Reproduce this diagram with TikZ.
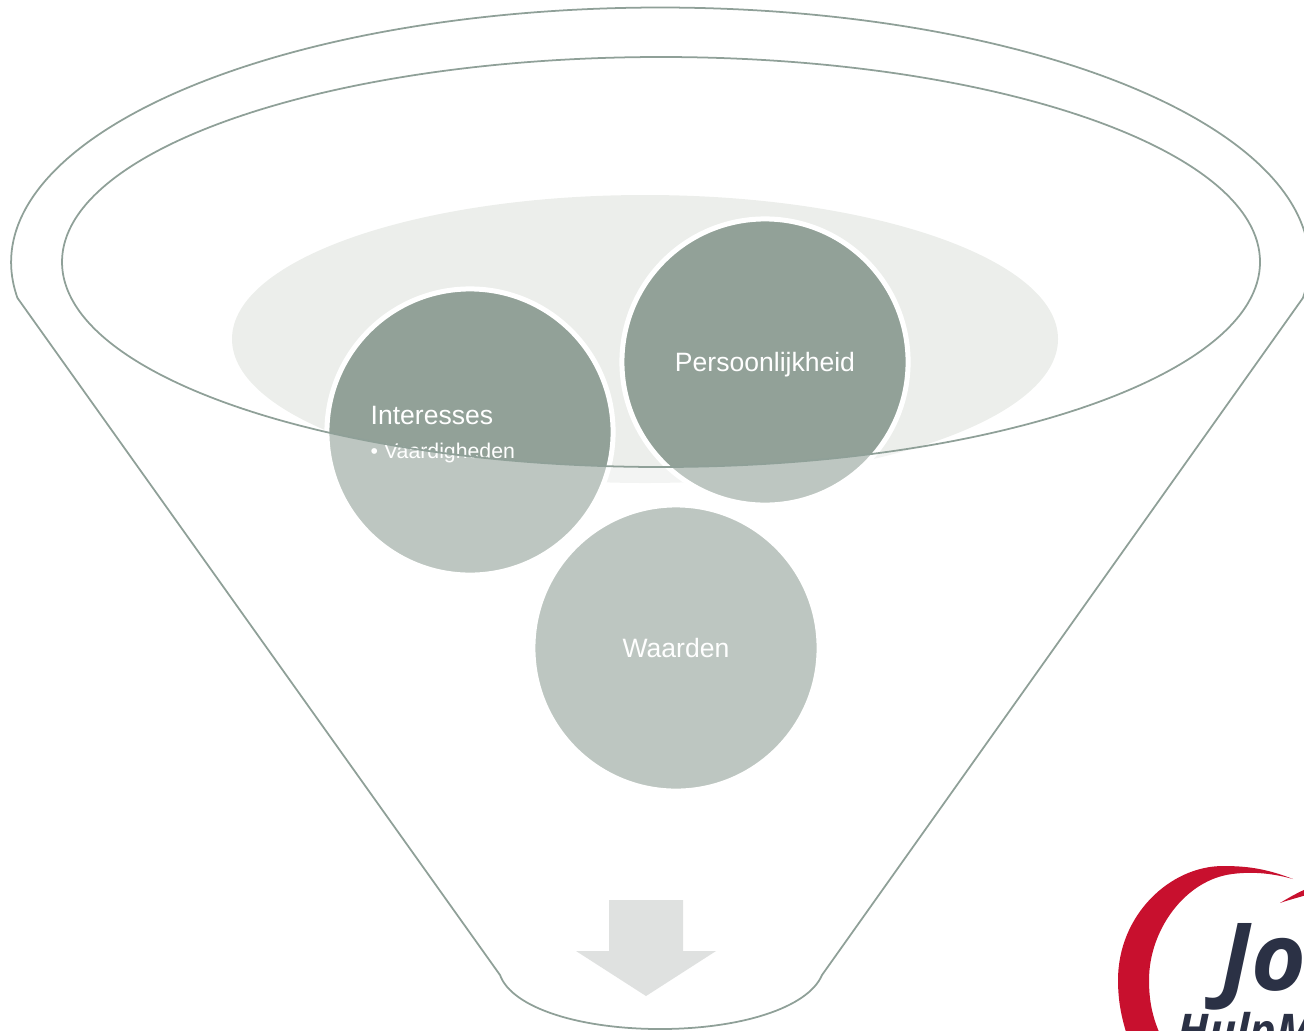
\documentclass[tikz,border=0pt]{standalone}
\usepackage{fontspec}
\setmainfont{Liberation Sans}
\newfontfamily\logofont{Open Sans}
\definecolor{funnelline}{HTML}{8FA098}
\definecolor{bubblefill}{HTML}{92A198}
\definecolor{backfill}{HTML}{ECEEEB}
\definecolor{arrowfill}{HTML}{DFE1E0}
\definecolor{logored}{HTML}{C8102E}
\definecolor{logonavy}{HTML}{2B3145}
\tikzset{
    bubble/.style={circle, fill=bubblefill, draw=white, line width=0.05cm, minimum size=2.86cm, inner sep=0pt, text=white, text depth=0pt, font=\fontsize{7.55}{9}\selectfont},
    bubbletext/.style={text=white, inner sep=0pt, anchor=west},
    funnel/.style={draw=funnelline, line width=0.5pt}
}
\begin{document}
\begin{tikzpicture}[x=0.01cm, y=-0.01cm]
    \useasboundingbox (0,0) rectangle (1304,1030);

    % Back ellipse and bubbles
    \fill[backfill] (645,339) ellipse [x radius=413, y radius=144];
    \node[bubble] (waarden) at (676,648) {Waarden};
    \node[bubble] (interesses) at (470,432) {};
    \node[bubble] (persoonlijkheid) at (765,362) {Persoonlijkheid};
    \node[bubbletext, font=\fontsize{7.55}{9}\selectfont] (interessestext) at (370,415) {Interesses};
    \node[bubbletext, font=\fontsize{6.05}{7}\selectfont] (vaardigheden) at (370,452.5) {• Vaardigheden};

    % Pale veil outside the funnel opening
    \fill[white, opacity=0.4, even odd rule] (0,0) rectangle (1304,1030) (661,262) ellipse [x radius=599, y radius=205];

    % Funnel
    \draw[funnel] (661,262) ellipse [x radius=599, y radius=205];
    \draw[funnel] (17.5,298) arc [start angle=172, end angle=368, x radius=649, y radius=255]
        -- (822,975) .. controls (808,1008) and (740,1029) .. (660,1029)
        .. controls (580,1029) and (512,1008) .. (500,975) -- cycle;

    % Arrow
    \fill[arrowfill] (609,900) -- (683,900) -- (683,951) -- (716,951) -- (646,996) -- (576,951) -- (609,951) -- cycle;

    % Logo
    \begin{scope}
        \clip (0,0) rectangle (1304,1030);
        \fill[logored] (1293,879) .. controls (1265,868) and (1245,866) .. (1223,866)
            .. controls (1170,866) and (1118,915) .. (1118,980) .. controls (1118,1000) and (1121,1015) .. (1126,1032)
            -- (1159,1032) .. controls (1152,1015) and (1149,1000) .. (1149,980)
            .. controls (1149,930) and (1185,880) .. (1232,874) .. controls (1255,871) and (1275,874) .. (1293,879) -- cycle;
        \fill[logored] (1280,903) .. controls (1288,898) and (1297,893) .. (1306,889) -- (1306,895) .. controls (1297,898) and (1288,900) .. (1280,903) -- cycle;
        \node[inner sep=0pt, anchor=base west, text=logonavy, font=\logofont\bfseries\itshape\fontsize{26.7}{27}\selectfont] (logojo) at (1220,990) {Jo};
        \node[inner sep=0pt, anchor=base west, text=logonavy, font=\logofont\bfseries\itshape\fontsize{12.8}{13}\selectfont] (logohulp) at (1177,1046) {HulpM};
    \end{scope}
\end{tikzpicture}
\end{document}
